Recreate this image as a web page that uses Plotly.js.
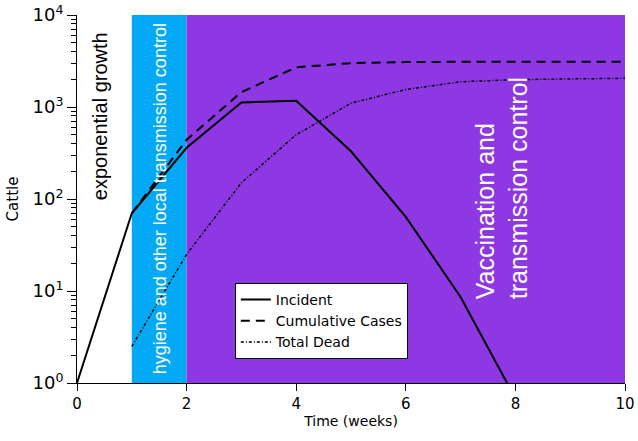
<!DOCTYPE html>
<html>
<head>
<meta charset="utf-8">
<script src="https://cdn.plot.ly/plotly-3.0.1.min.js"></script>
<style>html,body{margin:0;padding:0;background:#fff;}#chart{width:638px;height:441px;}</style>
</head>
<body>
<div id="chart"></div>
<script>
// Data
var incidentWeeks = [0, 1, 2, 3, 4, 5, 6, 7, 8];
var incident = [1, 70, 360, 1120, 1170, 330, 64, 8.6, 0.68];
var cumulativeWeeks = [1, 2, 3, 4, 5, 6, 7, 8, 9, 10];
var cumulative = [70, 440, 1450, 2700, 3000, 3080, 3100, 3100, 3100, 3100];
var deadWeeks = [1, 2, 3, 4, 5, 6, 7, 8, 9, 10];
var totalDead = [2.5, 25, 150, 500, 1100, 1550, 1880, 1980, 2020, 2050];
var seriesNames = ['Incident', 'Cumulative Cases', 'Total Dead'];
var yTickVals = [1, 10, 100, 1000, 10000];
var yTickText = ['10<sup>0</sup>', '10<sup>1</sup>', '10<sup>2</sup>', '10<sup>3</sup>', '10<sup>4</sup>'];
var xTickVals = [0, 2, 4, 6, 8, 10];
var phaseLabels = ['exponential growth', 'hygiene and other local transmission control', 'Vaccination and<br>transmission control'];

var minorVals = [];
for (var d = 0; d < 4; d++) { for (var m = 2; m <= 9; m++) { minorVals.push(m * Math.pow(10, d)); } }

var traces = [
  {x: incidentWeeks, y: incident, name: seriesNames[0], mode: 'lines', line: {color: '#000', width: 2}},
  {x: cumulativeWeeks, y: cumulative, name: seriesNames[1], mode: 'lines', line: {color: '#000', width: 2, dash: '9px,6px'}},
  {x: deadWeeks, y: totalDead, name: seriesNames[2], mode: 'lines', line: {color: '#000', width: 1.5, dash: '3px,2px,1px,2px'}}
];

var layout = {
  width: 638, height: 441,
  margin: {l: 77, r: 13, t: 15, b: 58},
  paper_bgcolor: '#fff', plot_bgcolor: '#fff',
  font: {family: 'DejaVu Sans, sans-serif', size: 14, color: '#000'},
  showlegend: true,
  legend: {x: 0.288, y: 0.272, xanchor: 'left', yanchor: 'top', bgcolor: '#fff', bordercolor: '#000', borderwidth: 1,
           font: {family: 'DejaVu Sans, sans-serif', size: 14}, tracegroupgap: 0, itemwidth: 30},
  xaxis: {range: [0, 10], tickvals: xTickVals, ticks: 'outside', ticklen: 7, tickcolor: '#000', showline: true, linecolor: '#000', linewidth: 1,
          showgrid: false, zeroline: false, tickfont: {size: 15}, title: {text: 'Time (weeks)', font: {size: 14}, standoff: 4}},
  yaxis: {type: 'log', range: [0, 4], tickvals: yTickVals, ticktext: yTickText, ticks: 'outside', ticklen: 9, tickcolor: '#000',
          showline: true, linecolor: '#000', linewidth: 1, showgrid: false, zeroline: false, tickfont: {size: 18},
          minor: {tickmode: 'array', tickvals: minorVals, ticks: 'outside', ticklen: 5, tickcolor: '#000', showgrid: false},
          title: {text: 'Cattle', font: {size: 15}, standoff: 10}},
  shapes: [
    {type: 'rect', xref: 'x', yref: 'paper', x0: 1, x1: 2, y0: 0, y1: 1, fillcolor: '#03A9F4', line: {width: 0}, layer: 'below'},
    {type: 'rect', xref: 'x', yref: 'paper', x0: 2, x1: 10, y0: 0, y1: 1, fillcolor: '#8D38E2', line: {width: 0}, layer: 'below'}
  ],
  annotations: [
    {text: phaseLabels[0], xref: 'x', yref: 'paper', x: 0.42, y: 0.725, xanchor: 'center', yanchor: 'middle', textangle: -90, showarrow: false,
     font: {family: 'Liberation Sans, Arial, sans-serif', size: 20, color: '#000'}},
    {text: phaseLabels[1], xref: 'x', yref: 'paper', x: 1.52, y: 0.50, xanchor: 'center', yanchor: 'middle', textangle: -90, showarrow: false,
     font: {family: 'Liberation Sans, Arial, sans-serif', size: 18, color: '#fff'}},
    {text: phaseLabels[2], xref: 'x', yref: 'paper', x: 7.76, y: 0.53, xanchor: 'center', yanchor: 'middle', textangle: -90, showarrow: false, align: 'left',
     font: {family: 'Liberation Sans, Arial, sans-serif', size: 25, color: '#fff'}}
  ]
};

Plotly.newPlot('chart', traces, layout, {displayModeBar: false, staticPlot: true});
</script>
</body>
</html>
